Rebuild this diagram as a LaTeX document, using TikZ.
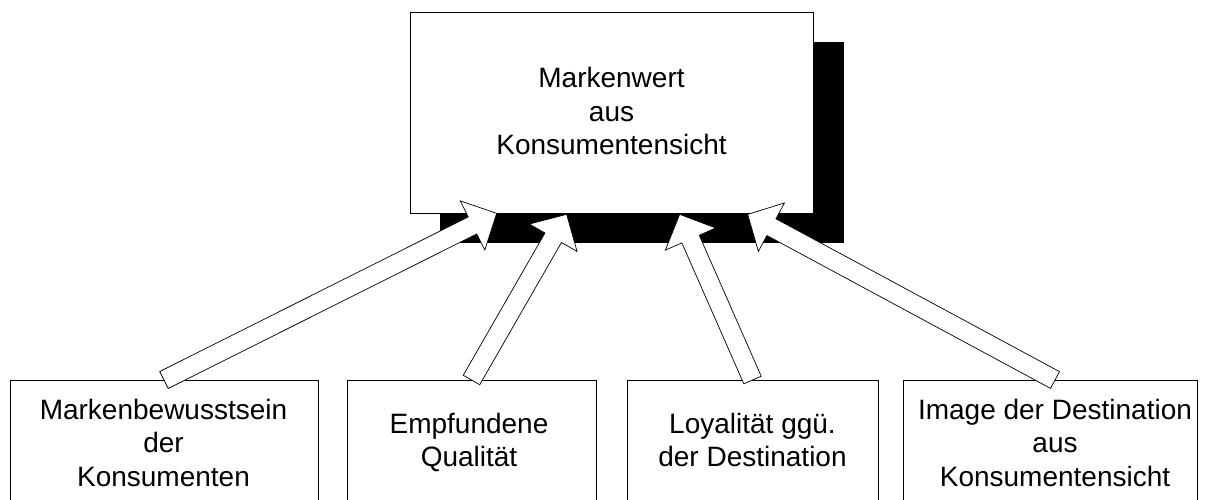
\documentclass[tikz,border=0pt]{standalone}
\usepackage{fontspec}
\setmainfont{Liberation Sans}
\usetikzlibrary{calc}
\newcommand\hollowarr[2]{%
  \path ($(#2)!27pt!(#1)$) coordinate (hb);
  \draw[arrowline] ($(#1)!9.5pt!90:(#2)$) -- ($(hb)!9.5pt!90:(#2)$) -- ($(hb)!27.5pt!90:(#2)$) -- (#2)
    -- ($(hb)!27.5pt!-90:(#2)$) -- ($(hb)!9.5pt!-90:(#2)$) -- ($(#1)!9.5pt!-90:(#2)$) -- cycle;}
\begin{document}
\begin{tikzpicture}[x=1pt,y=-1pt,
  box/.style={draw=black, line width=0.7pt, fill=white, inner sep=0pt},
  lbl/.style={anchor=base, inner sep=0pt, font=\fontsize{28pt}{33.5pt}\selectfont},
  arrowline/.style={draw=black, line width=0.7pt, fill=white, line join=miter}]
\useasboundingbox (0,0) rectangle (1205,500);
\clip (0,0) rectangle (1205,500);
% shadow
\fill[black] (440,42) rectangle (844,243);
% top box
\node[box, minimum width=403pt, minimum height=201pt] (top) at (611.5,112.5) {};
\node[lbl] (ttop) at (611.5,87.7) {\begin{tabular}[t]{@{}c@{}}Markenwert\\aus\\Konsumentensicht\end{tabular}};
% bottom boxes
\node[box, anchor=north, minimum width=308pt, minimum height=160pt] (b1) at (164,380) {};
\node[box, anchor=north, minimum width=249pt, minimum height=160pt] (b2) at (471.5,380) {};
\node[box, anchor=north, minimum width=251pt, minimum height=160pt] (b3) at (752.5,380) {};
\node[box, anchor=north, minimum width=294pt, minimum height=160pt] (b4) at (1050,380) {};
\node[lbl] (t1) at (163.5,419) {\begin{tabular}[t]{@{}c@{}}Markenbewusstsein\\der\\Konsumenten\end{tabular}};
\node[lbl] (t2) at (469,433) {\begin{tabular}[t]{@{}c@{}}Empfundene\\Qualität\end{tabular}};
\node[lbl] (t3) at (752.5,433) {\begin{tabular}[t]{@{}c@{}}Loyalität ggü.\\der Destination\end{tabular}};
\node[lbl] (t4) at (1055,419) {\begin{tabular}[t]{@{}c@{}}Image der Destination\\aus\\Konsumentensicht\end{tabular}};
% arrow end points
\coordinate (p1) at ($(top.south west)+(87,0)$);
\coordinate (p2) at ($(top.south west)+(157,1)$);
\coordinate (p3) at ($(top.south west)+(270,1)$);
\coordinate (p4) at ($(top.south west)+(338,1)$);
\coordinate (a4) at ($(b4.north)+(5,0)$);
% arrows
\hollowarr{b1.north}{p1}
\hollowarr{b2.north}{p2}
\hollowarr{b3.north}{p3}
\hollowarr{a4}{p4}
\end{tikzpicture}
\end{document}
